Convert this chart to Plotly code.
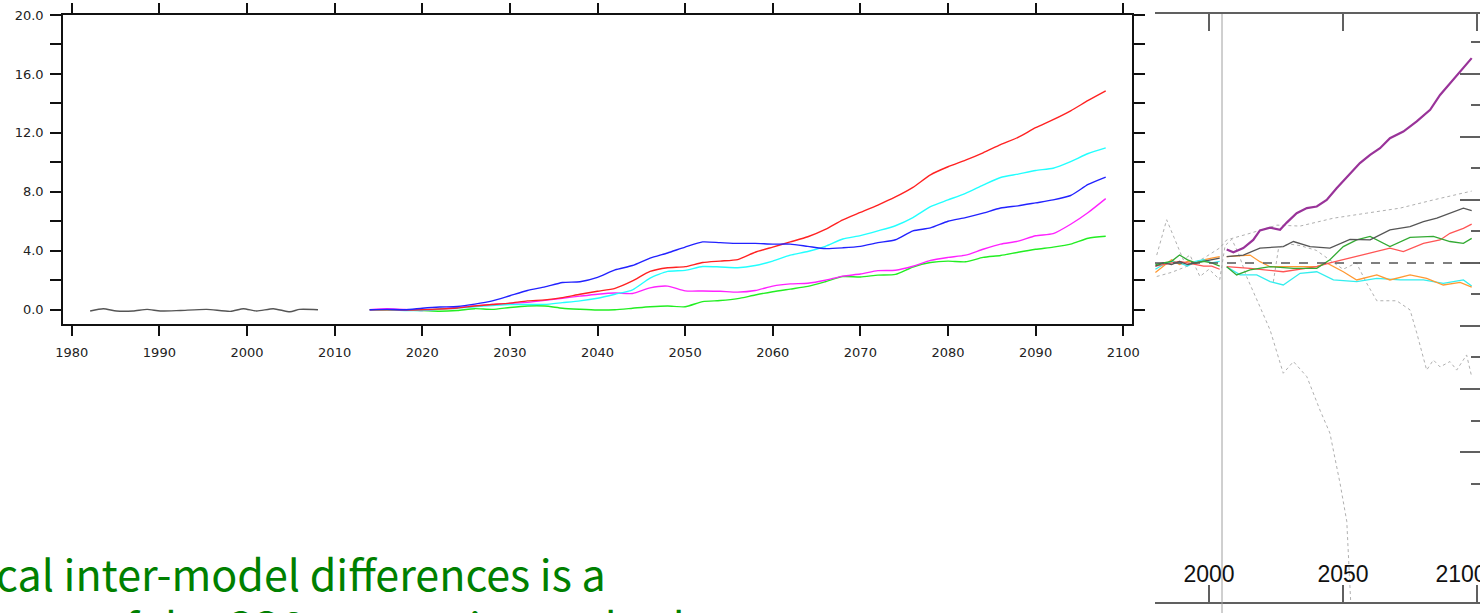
import plotly.graph_objects as go

W, H = 1480, 613

# ---------------- main panel: anomaly time series ----------------
hist_years = [1982.1, 1983.6, 1985.1, 1987.0, 1988.6, 1990.1, 1992.4, 1995.4,
              1998.1, 1999.6, 2001.1, 2003.0, 2004.9, 2006.0, 2008.1]
hist_vals = [-0.09, 0.07, -0.09, -0.09, 0.02, -0.09, -0.05, 0.02,
             -0.11, 0.07, -0.09, 0.07, -0.14, 0.02, 0.0]

proj_years = list(range(2014, 2099, 2))
red_vals = [0.0, 0.0, -0.02, 0.0, 0.05, 0.12, 0.25, 0.35, 0.45, 0.6, 0.67, 0.82, 1.05,
            1.25, 1.45, 1.95, 2.6, 2.85, 2.92, 3.2, 3.3, 3.4, 3.9, 4.25, 4.6, 4.95,
            5.45, 6.1, 6.6, 7.1, 7.65, 8.3, 9.15, 9.7, 10.15, 10.65, 11.2, 11.7,
            12.35, 12.9, 13.5, 14.2, 14.85]
cyan_vals = [0.0, 0.0, -0.05, -0.05, 0.05, 0.1, 0.2, 0.28, 0.35, 0.35, 0.36, 0.48, 0.6,
             0.78, 1.05, 1.35, 2.15, 2.6, 2.67, 2.93, 2.9, 2.85, 3.0, 3.3, 3.7, 3.95,
             4.3, 4.8, 5.03, 5.35, 5.7, 6.25, 7.0, 7.45, 7.9, 8.45, 8.97, 9.2, 9.45,
             9.6, 10.05, 10.6, 10.98]
blue_vals = [0.0, 0.02, 0.0, 0.1, 0.18, 0.22, 0.38, 0.6, 0.95, 1.3, 1.55, 1.85, 1.9,
             2.2, 2.7, 3.0, 3.5, 3.85, 4.25, 4.6, 4.55, 4.5, 4.5, 4.45, 4.45, 4.3,
             4.15, 4.2, 4.3, 4.55, 4.75, 5.35, 5.55, 6.0, 6.25, 6.55, 6.9, 7.05,
             7.25, 7.45, 7.75, 8.5, 9.0]
magenta_vals = [0.0, 0.07, 0.02, -0.05, 0.05, 0.15, 0.25, 0.35, 0.43, 0.5, 0.63, 0.78,
                0.92, 1.05, 1.13, 1.1, 1.48, 1.6, 1.28, 1.27, 1.25, 1.19, 1.3, 1.6,
                1.75, 1.8, 2.0, 2.28, 2.42, 2.65, 2.68, 2.95, 3.35, 3.55, 3.7, 4.1,
                4.45, 4.65, 5.02, 5.16, 5.8, 6.6, 7.54]
green_vals = [0.0, 0.0, -0.02, -0.05, -0.1, -0.05, 0.07, 0.02, 0.15, 0.25, 0.25, 0.1,
              0.03, -0.02, 0.0, 0.1, 0.2, 0.25, 0.2, 0.55, 0.62, 0.75, 1.0, 1.22, 1.4,
              1.58, 1.9, 2.25, 2.22, 2.35, 2.4, 2.9, 3.2, 3.3, 3.25, 3.55, 3.68, 3.9,
              4.1, 4.25, 4.45, 4.85, 4.98]

main_x_ticks = list(range(1980, 2101, 10))
main_y_major = [0, 4, 8, 12, 16, 20]
main_y_labels = ["0.0", "4.0", "8.0", "12.0", "16.0", "20.0"]
main_y_minor = [2, 6, 10, 14, 18]

# ---------------- side panel: model spread ----------------
side_hist_years = [1980, 1983, 1986, 1989, 1992, 1995, 1998, 2001, 2004]
side_black_hist = [-0.1, 0.0, -0.05, 0.05, -0.05, 0.0, 0.05, 0.1, 0.15]
side_green_hist = [-0.05, 0.0, 0.05, 0.25, 0.1, 0.0, 0.05, 0.0, -0.1]
side_red_hist = [-0.1, -0.05, 0.0, 0.05, 0.0, -0.05, -0.1, -0.1, -0.2]
side_cyan_hist = [-0.2, -0.05, 0.05, 0.0, -0.1, 0.05, 0.1, 0.0, 0.05]
side_orange_hist = [-0.3, -0.1, 0.1, -0.05, 0.05, 0.0, 0.1, 0.15, 0.2]

purple_years = [2006.6, 2009.1, 2012.8, 2016.5, 2019.0, 2022.8, 2026.5, 2029.0, 2032.7,
                2036.5, 2040.2, 2043.9, 2047.6, 2052.6, 2056.3, 2060.1, 2063.8, 2067.5,
                2072.5, 2077.5, 2082.5, 2086.2, 2089.9, 2093.7, 2098.0]
purple_vals = [0.43, 0.34, 0.47, 0.73, 1.03, 1.12, 1.05, 1.28, 1.58, 1.74, 1.79, 2.0,
               2.37, 2.85, 3.17, 3.43, 3.64, 3.96, 4.17, 4.49, 4.86, 5.33, 5.7, 6.07, 6.5]

black_years = [2006.6, 2012.8, 2019.0, 2027.7, 2031.5, 2037.7, 2045.1, 2052.6, 2060.1,
               2067.5, 2075.0, 2080.0, 2085.0, 2089.9, 2094.9, 2098.0]
black_vals = [0.2, 0.25, 0.47, 0.52, 0.68, 0.52, 0.47, 0.75, 0.73, 1.05, 1.15, 1.31,
              1.42, 1.58, 1.74, 1.66]

sred_years = [2006.6, 2015.3, 2027.7, 2034.0, 2040.2, 2045.1, 2052.6, 2060.1, 2067.5,
              2072.5, 2080.0, 2086.2, 2089.9, 2094.9, 2098.0]
sred_vals = [-0.12, -0.17, -0.28, -0.2, -0.12, 0.0, 0.15, 0.31, 0.47, 0.36, 0.62,
             0.73, 0.94, 1.1, 1.23]

sgreen_years = [2006.6, 2010.3, 2015.3, 2022.8, 2031.5, 2040.2, 2045.1, 2050.1, 2055.1,
                2060.1, 2067.5, 2075.0, 2083.7, 2089.9, 2094.9, 2098.0]
sgreen_vals = [-0.12, -0.38, -0.22, -0.12, -0.17, -0.17, 0.1, 0.52, 0.73, 0.84, 0.52,
               0.81, 0.84, 0.68, 0.62, 0.78]

orange_years = [2006.6, 2015.3, 2019.0, 2022.8, 2031.5, 2040.2, 2043.9, 2050.1, 2055.1,
                2062.6, 2067.5, 2075.0, 2081.2, 2087.4, 2093.7, 2098.0]
orange_vals = [0.2, 0.25, 0.04, -0.12, -0.12, -0.12, 0.0, -0.28, -0.54, -0.38, -0.54,
               -0.38, -0.49, -0.7, -0.62, -0.77]

scyan_years = [2006.6, 2011.6, 2017.8, 2022.8, 2027.7, 2034.0, 2040.2, 2046.4, 2055.1,
               2062.6, 2071.3, 2080.0, 2087.4, 2094.9, 2098.0]
scyan_vals = [-0.12, -0.38, -0.38, -0.59, -0.7, -0.33, -0.28, -0.54, -0.59, -0.49,
              -0.54, -0.54, -0.65, -0.54, -0.73]

dotA_years = [1980.5, 1986, 1992, 1998, 2004.1, 2006.6, 2015.3, 2025.3, 2034.0, 2046.4,
              2058.8, 2071.3, 2083.7, 2093.7, 2098.0]
dotA_vals = [-0.43, -0.3, -0.1, 0.15, 0.48, 0.73, 0.94, 1.2, 1.17, 1.42, 1.58, 1.74,
             2.0, 2.21, 2.28]

dotB_years = [1980.5, 1984.2, 1987.0, 1990.4, 1992.9, 1996.6, 2000.0, 2004.0, 2006.0,
              2008.5, 2011.0, 2014.0, 2019.0, 2022.8, 2027.7, 2031.5, 2036.5, 2041.4,
              2045.1, 2048.9, 2051.4, 2053.0]
dotB_vals = [0.25, 1.37, 0.8, 0.1, 0.25, -0.43, -0.2, -0.53, 0.55, 0.75, 0.3, -0.43,
             -1.39, -2.13, -3.5, -3.13, -3.61, -4.67, -5.4, -7.0, -8.2, -11.0]

dotC_years = [2024.0, 2026.0, 2030.0, 2034.0, 2040.0, 2045.0, 2050.0, 2055.0, 2058.8,
              2062.6, 2070.0, 2075.0, 2077.5, 2081.2, 2083.7, 2086.2, 2089.9, 2092.4,
              2096.1, 2098.0]
dotC_vals = [-0.6, 0.5, 0.6, 0.55, 0.4, 0.1, -0.2, 0.0, -0.64, -1.2, -1.2, -1.49,
             -2.22, -3.4, -3.08, -3.3, -3.13, -3.4, -2.92, -3.61]

side_x_ticks = [2000, 2050, 2100]
# the last label is padded so it sits left of its tick, clear of the frame
side_x_labels = ["2000", "2050", "2100" + "\u00a0" * 5]
side_y_major = [-6, -4, -2, 0, 2, 4, 6]
side_y_minor = [-7, -5, -3, -1, 1, 3, 5, 7]

fig = go.Figure()

# main panel lines
fig.add_trace(go.Scatter(x=hist_years, y=hist_vals, mode="lines", xaxis="x", yaxis="y",
                         line=dict(color="#555555", width=1.4, shape="spline", smoothing=0.6)))
for vals, col in [(green_vals, "#22ee22"), (magenta_vals, "#ff22ff"), (cyan_vals, "#22ffff"),
                  (red_vals, "#ff2222"), (blue_vals, "#2222ff")]:
    fig.add_trace(go.Scatter(x=proj_years, y=vals, mode="lines", xaxis="x", yaxis="y",
                             line=dict(color=col, width=1.4, shape="spline", smoothing=0.6)))

# side panel lines
for yrs, vals in [(dotA_years, dotA_vals), (dotB_years, dotB_vals), (dotC_years, dotC_vals)]:
    fig.add_trace(go.Scatter(x=yrs, y=vals, mode="lines", xaxis="x2", yaxis="y2",
                             line=dict(color="#b0b0b0", width=1, dash="dot")))
for vals, col in [(side_orange_hist, "#ff9933"), (side_cyan_hist, "#33eeee"),
                  (side_red_hist, "#ff5555"), (side_black_hist, "#555555"),
                  (side_green_hist, "#33aa33")]:
    fig.add_trace(go.Scatter(x=side_hist_years, y=vals, mode="lines", xaxis="x2", yaxis="y2",
                             line=dict(color=col, width=1.3)))
for yrs, vals, col in [(scyan_years, scyan_vals, "#33eeee"), (orange_years, orange_vals, "#ff9933"),
                       (sred_years, sred_vals, "#ff5555"), (sgreen_years, sgreen_vals, "#33aa33"),
                       (black_years, black_vals, "#555555")]:
    fig.add_trace(go.Scatter(x=yrs, y=vals, mode="lines", xaxis="x2", yaxis="y2",
                             line=dict(color=col, width=1.3)))
fig.add_trace(go.Scatter(x=purple_years, y=purple_vals, mode="lines", xaxis="x2", yaxis="y2",
                         line=dict(color="#993399", width=2.2)))

tick_font = dict(family="DejaVu Sans, sans-serif", size=13, color="#222222")
text_font = dict(family="Noto Sans CJK JP", size=43, color="#008000")

fig.update_layout(
    width=W, height=H,
    margin=dict(l=0, r=0, t=0, b=0, autoexpand=False),
    paper_bgcolor="white", plot_bgcolor="white",
    showlegend=False,
    xaxis=dict(domain=[63 / W, 1132 / W], range=[1979.0, 2101.0], anchor="y",
               automargin=False,
               tickvals=main_x_ticks, ticks="outside", ticklen=10, tickwidth=1.6,
               tickcolor="#111111", showline=True, linecolor="#111111", linewidth=1.6,
               mirror="ticks", showgrid=False, zeroline=False, tickfont=tick_font,
               ticklabelstandoff=6),
    yaxis=dict(domain=[1 - 324 / H, 1 - 15 / H], range=[-0.97, 20.0], anchor="x",
               automargin=False,
               tickvals=main_y_major, ticktext=main_y_labels, ticks="outside", ticklen=11,
               tickwidth=1.6, tickcolor="#111111", showline=True, linecolor="#111111",
               linewidth=1.6, mirror="ticks", showgrid=False, zeroline=False,
               tickfont=tick_font, ticklabelstandoff=4,
               minor=dict(tickvals=main_y_minor, ticks="outside", ticklen=11,
                          tickwidth=1.6, tickcolor="#111111", showgrid=False)),
    xaxis2=dict(domain=[1155 / W, 1.0], range=[1979.85, 2101.1], anchor="y2",
                automargin=False,
                tickvals=side_x_ticks, ticktext=side_x_labels, ticks="inside", ticklen=17,
                tickwidth=2, tickcolor="#606060", showline=True, linecolor="#606060",
                linewidth=2, mirror="ticks", showgrid=False, zeroline=False,
                ticklabelposition="inside", ticklabeloverflow="allow",
                tickfont=dict(family="Liberation Sans, Arial, sans-serif", size=23,
                              color="#111111")),
    yaxis2=dict(domain=[1 - 602 / H, 1 - 14 / H], range=[-10.76, 7.9], anchor="x2",
                automargin=False,
                side="right", tickvals=side_y_major, ticks="inside", ticklen=20,
                tickwidth=2, tickcolor="#606060", showticklabels=False, showline=False,
                showgrid=False, zeroline=False,
                minor=dict(tickvals=side_y_minor, ticks="inside", ticklen=9,
                           tickwidth=2, tickcolor="#606060", showgrid=False)),
    shapes=[
        dict(type="line", xref="x2", yref="y2", x0=1979.85, x1=2101.1, y0=0, y1=0,
             line=dict(color="#555555", width=1.4, dash="dash")),
        dict(type="line", xref="x2", yref="paper", x0=2004.85, x1=2004.85,
             y0=0, y1=1 - 14 / H, line=dict(color="#a0a0a0", width=1)),
    ],
    annotations=[
        dict(text="Typical inter-model differences is a", xref="paper", yref="paper",
             x=608 / W, y=1 - 572 / H, xanchor="right", yanchor="middle", showarrow=False,
             font=text_font),
        dict(text="measure of the CO2 uncertainty at both", xref="paper", yref="paper",
             x=-86 / W, y=1 - 625 / H, xanchor="left", yanchor="middle", showarrow=False,
             font=text_font),
    ],
)

fig.write_html("out.html")
